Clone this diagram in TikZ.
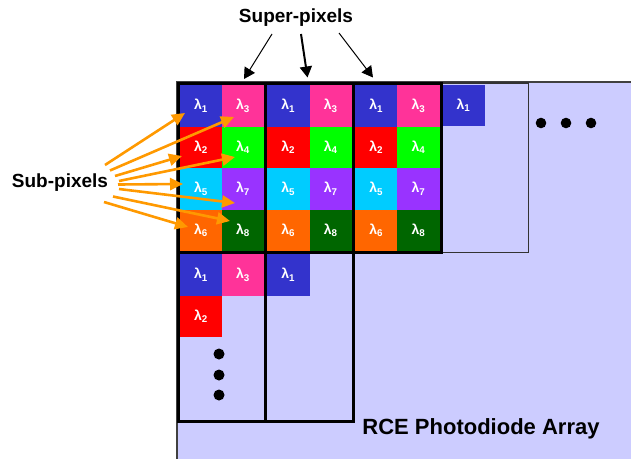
\documentclass[tikz,border=0pt]{standalone}
\usepackage{fontspec}
\setmainfont{Liberation Sans}
\usetikzlibrary{arrows.meta}
\definecolor{lav}{HTML}{CCCCFF}
\definecolor{cb}{HTML}{3333CC}
\definecolor{cp}{HTML}{FF3399}
\definecolor{cr}{HTML}{FF0000}
\definecolor{cg}{HTML}{00FF00}
\definecolor{cc}{HTML}{00CCFF}
\definecolor{cv}{HTML}{9933FF}
\definecolor{co}{HTML}{FF6600}
\definecolor{cd}{HTML}{006600}
\definecolor{oarr}{HTML}{FF9900}
\begin{document}
\begin{tikzpicture}[x=1pt,y=-1pt,
  pix/.style={anchor=north west, inner sep=0pt, outer sep=0pt, text=white,
    font=\fontsize{14}{14}\selectfont\bfseries},
  lbl/.style={inner sep=0pt, font=\fontsize{19}{19}\selectfont\bfseries},
  spb/.style={line width=3pt, black},
  blk/.style={-{Triangle[length=11pt,width=12pt]}, black},
  orng/.style={-{Triangle[length=13pt,width=12pt]}, line width=2.6pt, oarr}]
\useasboundingbox (0,0) rectangle (631,458);
\begin{scope}
  \clip (0,0) rectangle (631,458);
  \fill[lav] (177,82) rectangle (640,470);
  \draw[line width=1.3pt, black!75] (177,470) -- (177,82) -- (640,82);
\end{scope}
% top row super-pixels
\foreach \sp/\x/\w in {1/180/42, 2/267/42.5, 3/355/42.25}{
  \foreach \r/\y/\ca/\la/\cb/\lb in {1/85/cb/1/cp/3, 2/126.5/cr/2/cg/4, 3/168/cc/5/cv/7, 4/209.5/co/6/cd/8}{
    \node[pix, fill=\ca, minimum width=\w pt, minimum height=41.6pt] (p\sp r\r a) at (\x,\y) {λ\textsubscript{\la}};
    \node[pix, fill=\cb, minimum width=\w pt, minimum height=41.6pt] (p\sp r\r b) at (\x+\w,\y) {λ\textsubscript{\lb}};
  }
}
% fourth super-pixel
\node[pix, fill=cb, minimum width=42pt, minimum height=41pt] (p4a) at (442.5,85) {λ\textsubscript{1}};
\draw[line width=1.8pt, black!80] (441,83) rectangle (528.5,252.5);
% bottom row super-pixels
\node[pix, fill=cb, minimum width=42pt, minimum height=41.5pt] (p5a) at (180,254) {λ\textsubscript{1}};
\node[pix, fill=cp, minimum width=42pt, minimum height=41.5pt] (p5b) at (222,254) {λ\textsubscript{3}};
\node[pix, fill=cr, minimum width=42pt, minimum height=41.5pt] (p5c) at (180,295.5) {λ\textsubscript{2}};
\node[pix, fill=cb, minimum width=42.5pt, minimum height=41.5pt] (p6a) at (267,254) {λ\textsubscript{1}};
% borders
\draw[spb] (178.5,83.5) rectangle (441,252.5);
\draw[spb] (265.5,83.5) -- (265.5,252.5);
\draw[spb] (353.5,83.5) -- (353.5,252.5);
\draw[spb] (178.5,252.5) rectangle (353.5,421);
\draw[spb] (265.5,252.5) -- (265.5,421);
% dots
\fill (219,354) circle (5.5) (219,375) circle (5.5) (219,395) circle (5.5);
\fill (541,123) circle (5.3) (566,123) circle (5.3) (591,123) circle (5.3);
% labels
\node[lbl] (sup) at (296,18) {Super-pixels};
\node[lbl] (sub) at (60,183) {Sub-pixels};
\node[lbl, font=\fontsize{22}{22}\selectfont\bfseries] (rce) at (481,429) {RCE Photodiode Array};
% super-pixel arrows
\coordinate (sa1) at (272,34); \coordinate (ta1) at (244,79);
\coordinate (sa2) at (301,34); \coordinate (ta2) at (307.5,77.5);
\coordinate (sa3) at (339,33); \coordinate (ta3) at (373,77.5);
\draw[blk, line width=1pt] (sa1) -- (ta1);
\draw[blk, line width=2pt] (sa2) -- (ta2);
\draw[blk, line width=1pt] (sa3) -- (ta3);
% sub-pixel arrows
\coordinate (s1) at (105,165);   \coordinate (t1) at (185,113);
\coordinate (s2) at (110,170.5); \coordinate (t2) at (234,117);
\coordinate (s3) at (115,176);   \coordinate (t3) at (182,156);
\coordinate (s4) at (119,181);   \coordinate (t4) at (235,157);
\coordinate (s5) at (118,184.5); \coordinate (t5) at (183,184);
\coordinate (s6) at (119,189);   \coordinate (t6) at (235,203);
\coordinate (s7) at (113,196.5); \coordinate (t7) at (230,221);
\coordinate (s8) at (104,202);   \coordinate (t8) at (188,227);
\foreach \i in {1,...,8}{\draw[orng] (s\i) -- (t\i);}
\end{tikzpicture}
\end{document}
